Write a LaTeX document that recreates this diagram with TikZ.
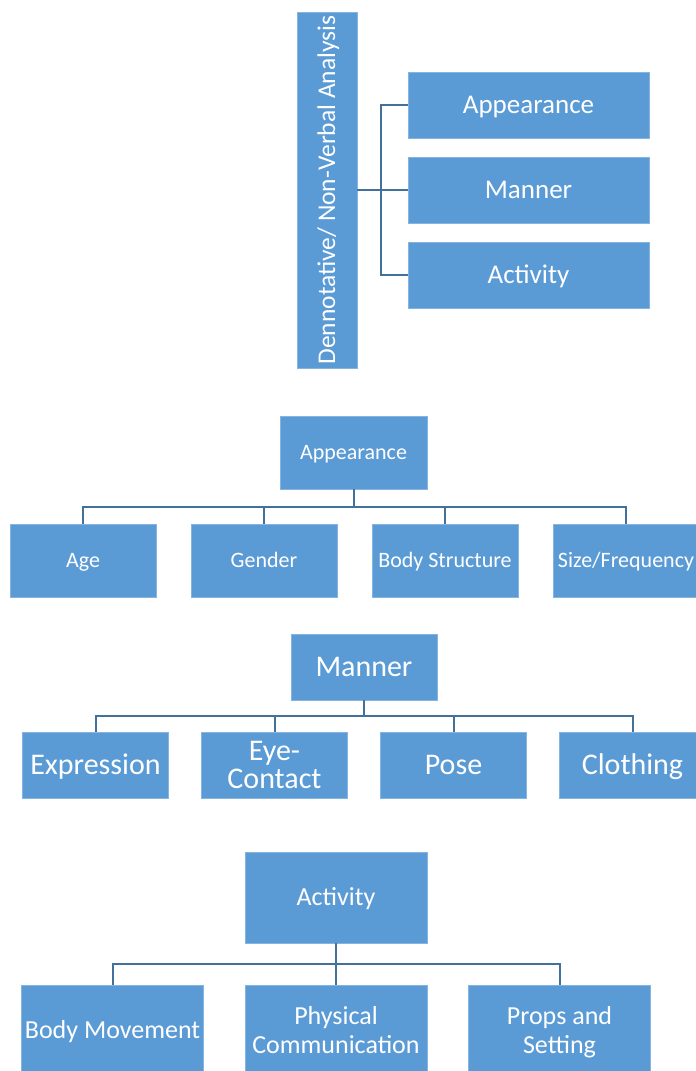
\documentclass[tikz,border=0pt]{standalone}
\usepackage{fontspec}
\setmainfont{Carlito}
\usetikzlibrary{positioning}
\definecolor{boxblue}{RGB}{91,155,213}
\definecolor{lineblue}{RGB}{65,113,156}

\begin{document}
\begin{tikzpicture}[x=1pt,y=-1pt,on grid,
    box/.style={fill=boxblue,draw=boxblue!75!white,line width=0.6pt,text=white,align=center,inner sep=1pt,text depth=0pt},
    topbox/.style={box,minimum width=241pt,minimum height=66pt,text height=17.4pt,font=\fontsize{27}{32}\selectfont},
    appbox/.style={box,minimum width=146pt,minimum height=73pt,text height=14.2pt,font=\fontsize{22}{26}\selectfont},
    manbox/.style={box,minimum width=146pt,minimum height=66pt,text height=19.3pt,font=\fontsize{30}{28}\selectfont},
    actbox/.style={box,minimum width=182pt,minimum height=91pt,text height=16.7pt,font=\fontsize{26}{29}\selectfont},
    link/.style={draw=lineblue,line width=2pt}]
  \useasboundingbox (0,0) rectangle (696,1071);

  % overview
  \node[box,rotate=90,minimum width=356pt,minimum height=60pt,text height=16.4pt,font=\fontsize{25.5}{30}\selectfont] (dna) at (327,190) {Dennotative/ Non-Verbal Analysis};
  \node[topbox] (top_man) at (528.5,190) {Manner};
  \node[topbox] (top_app) [above=85pt of top_man] {Appearance};
  \node[topbox] (top_act) [below=85pt of top_man] {Activity};
  \coordinate (split) at (381,190);
  \draw[link] (dna.south) -- (top_man.west);
  \draw[link] (top_app.west) -| (split) |- (top_act.west);

  % appearance
  \node[appbox,minimum width=147pt] (app) at (353.5,452.5) {Appearance};
  \node[appbox] (age) at (83,560.5) {Age};
  \node[appbox] (gender) [right=181pt of age] {Gender};
  \node[appbox] (body) [right=181pt of gender] {Body Structure};
  \node[appbox] (size) [right=181pt of body] {Size/Frequency};
  \foreach \c in {age,gender,body,size}
    \draw[link] (app.south) -- ++(0,18) -| (\c.north);

  % manner
  \node[manbox] (man) at (364,667) {Manner};
  \node[manbox] (expr) at (95.5,765) {Expression};
  \node[manbox,text height=47.3pt] (eye) [right=179pt of expr] {Eye-\\Contact};
  \node[manbox] (pose) [right=179pt of eye] {Pose};
  \node[manbox] (cloth) [right=179pt of pose] {Clothing};
  \foreach \c in {expr,eye,pose,cloth}
    \draw[link] (man.south) -- ++(0,16) -| (\c.north);

  % activity
  \node[actbox] (act) at (336,897.5) {Activity};
  \node[actbox] (move) at (112.5,1030.5) {Body Movement};
  \node[actbox,text height=45.7pt] (phys) [right=223.5pt of move] {Physical\\Communication};
  \node[actbox,text height=45.7pt] (props) [right=223.5pt of phys] {Props and\\Setting};
  \foreach \c in {move,phys,props}
    \draw[link] (act.south) -- ++(0,21) -| (\c.north);
\end{tikzpicture}
\end{document}
